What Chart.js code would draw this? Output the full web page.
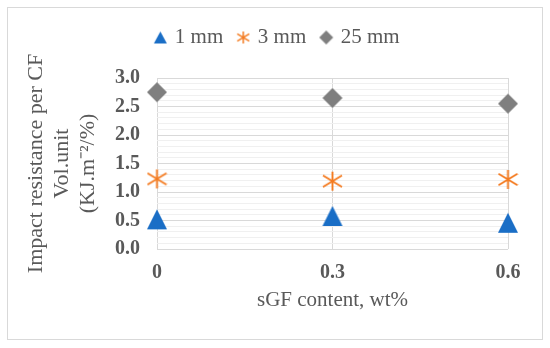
<!DOCTYPE html>
<html>
<head>
<meta charset="utf-8">
<script src="https://cdn.jsdelivr.net/npm/chart.js@4/dist/chart.umd.min.js"></script>
<style>
  html, body { margin: 0; padding: 0; background: #ffffff; }
  #wrap { width: 550px; height: 348px; }
</style>
</head>
<body>
<div id="wrap"><canvas id="c" width="550" height="348"></canvas></div>
<script>
// ---- data ----
const categories = ['0', '0.3', '0.6'];
const seriesNames = ['1 mm', '3 mm', '25 mm'];
const values1mm = [0.52, 0.58, 0.46];
const values3mm = [1.23, 1.19, 1.22];
const values25mm = [2.75, 2.65, 2.55];
const yMin = 0, yMax = 3.0, yMajorStep = 0.5, yMinorStep = 0.1;
const xTitle = 'sGF content, wt%';
const yTitleLines = ['Impact resistance per CF', 'Vol.unit', '(KJ.m\u207B\u00B2/%)'];

// ---- styles ----
const colBlue = '#1a6ec6';
const colOrange = '#f47b20';
const colGrey = '#7f7f7f';
const textCol = '#595959';
const serif = "'Liberation Serif', 'Times New Roman', serif";

function makeMarker(kind, w, h, color) {
  const c = document.createElement('canvas');
  c.width = w + 2; c.height = h + 2;
  const g = c.getContext('2d');
  const cx = c.width / 2, cy = c.height / 2;
  g.fillStyle = color; g.strokeStyle = color;
  if (kind === 'triangle') {
    g.beginPath();
    g.moveTo(cx, cy - h / 2);
    g.lineTo(cx + w / 2, cy + h / 2);
    g.lineTo(cx - w / 2, cy + h / 2);
    g.closePath(); g.fill();
  } else if (kind === 'diamond') {
    g.beginPath();
    g.moveTo(cx, cy - h / 2);
    g.lineTo(cx + w / 2, cy);
    g.lineTo(cx, cy + h / 2);
    g.lineTo(cx - w / 2, cy);
    g.closePath(); g.fill();
  } else if (kind === 'star') {
    g.lineWidth = Math.max(1.5, w / 10);
    g.beginPath();
    g.moveTo(cx, cy - h / 2); g.lineTo(cx, cy + h / 2);
    g.moveTo(cx - w / 2, cy - h * 0.3); g.lineTo(cx + w / 2, cy + h * 0.3);
    g.moveTo(cx - w / 2, cy + h * 0.3); g.lineTo(cx + w / 2, cy - h * 0.3);
    g.stroke();
  }
  return c;
}

const plotMarkers = [
  makeMarker('triangle', 20, 20, colBlue),
  makeMarker('star', 19, 19, colOrange),
  makeMarker('diamond', 20, 20, colGrey)
];
const legendMarkers = [
  makeMarker('triangle', 13, 12, colBlue),
  makeMarker('star', 12, 12, colOrange),
  makeMarker('diamond', 14, 14, colGrey)
];

const frame = {
  id: 'frame',
  beforeDraw(chart) {
    const ctx = chart.ctx;
    ctx.save();
    ctx.strokeStyle = '#d9d9d9';
    ctx.lineWidth = 1;
    ctx.strokeRect(7.5, 7.5, 535, 332);
    ctx.restore();
  }
};

const legendSpacer = {
  id: 'legendSpacer',
  beforeInit(chart) {
    const lg = chart.legend;
    if (!lg) return;
    const orig = lg.fit;
    lg.fit = function () { orig.call(this); this.height += 20; };
  }
};

const seriesValues = [values1mm, values3mm, values25mm];
const datasets = seriesNames.map((name, i) => ({
  label: name,
  data: seriesValues[i],
  showLine: false,
  pointStyle: plotMarkers[i],
  pointRadius: 10,
  pointHoverRadius: 10,
  borderColor: [colBlue, colOrange, colGrey][i],
  backgroundColor: [colBlue, colOrange, colGrey][i]
}));

const isMajor = v => Math.round(v * 10) % Math.round(yMajorStep * 10) === 0;

new Chart(document.getElementById('c'), {
  type: 'line',
  data: { labels: categories, datasets },
  plugins: [frame, legendSpacer],
  options: {
    responsive: false,
    animation: false,
    devicePixelRatio: 1,
    layout: { padding: { left: 48, right: 42, top: 11, bottom: 20 } },
    plugins: {
      tooltip: { enabled: false },
      legend: {
        position: 'top',
        labels: {
          usePointStyle: true,
          boxWidth: 8,
          padding: 16,
          color: textCol,
          font: { family: serif, size: 21 },
          generateLabels(chart) {
            const items = Chart.defaults.plugins.legend.labels.generateLabels(chart);
            items.forEach((it, i) => { it.pointStyle = legendMarkers[i]; });
            return items;
          }
        }
      }
    },
    scales: {
      x: {
        type: 'category',
        offset: false,
        grid: { color: '#d9d9d9', drawTicks: false, lineWidth: 1 },
        border: { display: false },
        ticks: { color: textCol, font: { family: serif, size: 20, weight: 'bold' }, padding: 12, maxRotation: 0 },
        title: { display: true, text: xTitle, color: textCol, font: { family: serif, size: 21, lineHeight: 1.2 }, padding: { top: 0, bottom: 15 } },
        afterFit(s) { s.height = (348 - 20) - 249; }
      },
      y: {
        min: yMin, max: yMax,
        grid: {
          drawTicks: false,
          lineWidth: 1,
          color: ctx => isMajor(ctx.tick.value) ? '#d9d9d9' : '#f0f0f0'
        },
        border: { display: false },
        ticks: {
          stepSize: yMinorStep,
          autoSkip: false,
          padding: 17,
          color: textCol,
          font: { family: serif, size: 20, weight: 'bold' },
          callback: v => isMajor(v) ? Number(v).toFixed(1) : ''
        },
        title: { display: true, text: yTitleLines, color: textCol, font: { family: serif, size: 22, lineHeight: 26 / 22 }, padding: { top: -25, bottom: 0 } },
        afterFit(s) { s.width = 157 - 48; }
      }
    }
  }
});
</script>
</body>
</html>
